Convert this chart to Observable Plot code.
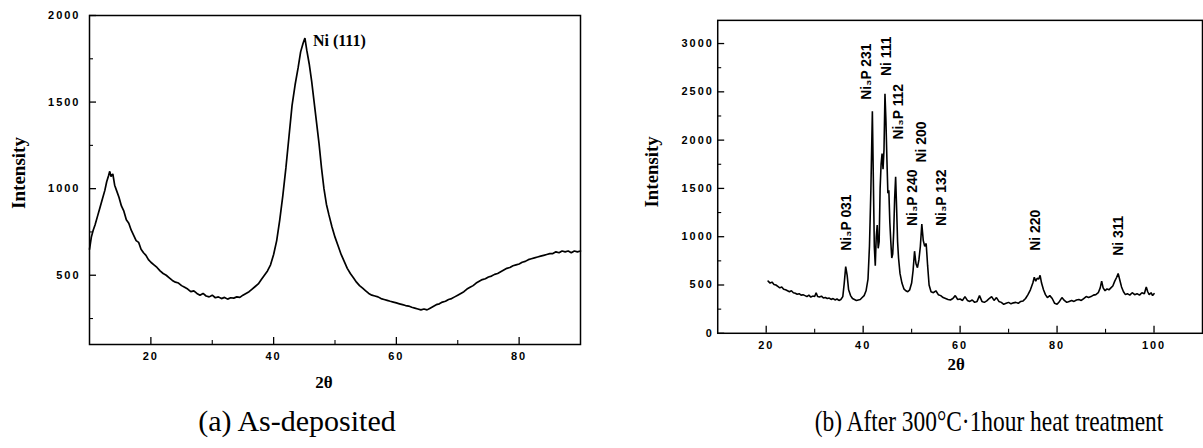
<!DOCTYPE html>
<html><head><meta charset="utf-8">
<script src="https://cdn.jsdelivr.net/npm/d3@7"></script>
<script src="https://cdn.jsdelivr.net/npm/@observablehq/plot@0.6"></script>
<style>
html,body{margin:0;padding:0;background:#fff;}
#wrap{position:relative;width:1203px;height:448px;overflow:hidden;background:#fff;}
.panel{position:absolute;top:0;}
.cap{position:absolute;font-family:"Liberation Serif","Times New Roman",serif;font-size:30px;color:#000;white-space:nowrap;line-height:1;}
g[aria-label="x-axis tick label"] text, g[aria-label="y-axis tick label"] text{letter-spacing:2px;}
</style></head>
<body><div id="wrap"></div>
<script>
// ---- Panel (a): As-deposited ----
const aTheta = [10.0,10.3,10.6,10.9,11.3,11.7,12.1,12.5,12.8,13.1,13.3,13.5,13.8,14.1,14.4,14.8,15.2,15.6,16.0,16.4,16.8,17.2,17.6,18.0,18.4,18.8,19.2,19.6,20.0,20.5,21.0,21.5,22.0,22.5,23.0,23.5,24.0,24.5,25.0,25.5,26.0,26.5,27.0,27.5,28.0,28.5,29.0,29.5,30.0,30.5,31.0,31.5,32.0,32.5,33.0,33.5,34.0,34.5,35.0,35.5,36.0,36.5,37.0,37.5,38.0,38.5,39.0,39.5,40.0,40.5,41.0,41.5,42.0,42.5,43.0,43.5,44.0,44.4,44.8,45.1,45.4,45.8,46.2,46.6,47.0,47.4,47.8,48.2,48.6,49.0,49.5,50.0,50.5,51.0,51.5,52.0,52.5,53.0,53.5,54.0,54.5,55.0,55.5,56.0,56.5,57.0,57.5,58.0,58.5,59.0,59.5,60.0,60.5,61.0,61.5,62.0,62.5,63.0,63.5,64.0,64.5,65.0,65.5,66.0,66.5,67.0,67.5,68.0,68.5,69.0,69.5,70.0,70.5,71.0,71.5,72.0,72.5,73.0,73.5,74.0,74.5,75.0,75.5,76.0,76.5,77.0,77.5,78.0,78.5,79.0,79.5,80.0,80.5,81.0,81.5,82.0,82.5,83.0,83.5,84.0,84.5,85.0,85.5,86.0,86.5,87.0,87.5,88.0,88.5,89.0,89.5,90.0];
const aIntensity = [650,720,760,790,840,890,940,990,1040,1075,1100,1070,1085,1020,990,950,900,870,820,800,760,730,700,690,650,630,615,590,575,560,545,525,510,500,485,470,460,455,440,430,420,405,410,395,385,395,380,375,385,370,375,365,372,362,370,368,375,372,385,395,405,420,435,450,475,500,525,560,620,700,820,960,1120,1300,1480,1600,1700,1790,1840,1870,1800,1720,1620,1500,1380,1260,1120,1000,910,850,780,720,670,620,580,540,510,485,460,440,425,410,395,385,380,375,365,360,355,350,345,340,335,330,325,322,315,310,305,300,305,300,310,320,330,335,345,350,360,365,375,385,395,405,420,430,440,455,465,475,480,490,495,505,510,520,530,540,545,555,560,565,575,580,590,595,600,605,610,615,620,625,625,635,630,640,635,640,630,640,635,640];
const aXMajor = [20,40,60,80];
const aXMinor = [30,50,70];
const aYMajor = [500,1000,1500,2000];
const aYMinor = [250,750,1250,1750];
const aPeakLabel = ["Ni (111)"];
const aPeakX = [46.4];
const aPeakY = [1856];

// ---- Panel (b): After 300°C·1hour heat treatment ----
const bTheta = [20.4,20.8,21.2,21.6,22.0,22.4,22.8,23.2,23.6,24.0,24.4,24.8,25.2,25.6,26.0,26.4,26.8,27.2,27.6,28.0,28.4,28.8,29.2,29.6,30.0,30.3,30.6,31.0,31.4,31.8,32.2,32.6,33.0,33.4,33.8,34.2,34.6,35.0,35.4,35.8,36.1,36.4,36.7,37.0,37.4,37.8,38.2,38.6,39.0,39.4,39.8,40.2,40.6,41.0,41.3,41.6,41.9,42.1,42.3,42.5,42.7,42.9,43.1,43.3,43.5,43.7,43.9,44.1,44.3,44.5,44.7,44.9,45.1,45.3,45.5,45.7,45.9,46.1,46.3,46.5,46.7,46.9,47.1,47.3,47.6,48.0,48.4,48.8,49.2,49.6,50.0,50.3,50.6,50.9,51.2,51.5,51.8,52.1,52.4,52.7,53.0,53.3,53.6,54.0,54.5,55.0,55.5,56.0,56.5,57.0,57.5,58.0,58.5,59.0,59.5,60.0,60.5,61.0,61.5,62.0,62.5,63.0,63.5,64.0,64.5,65.0,65.5,66.0,66.5,67.0,67.5,68.0,68.5,69.0,69.5,70.0,70.5,71.0,71.5,72.0,72.5,73.0,73.5,74.0,74.5,75.0,75.3,75.6,75.9,76.2,76.5,76.8,77.2,77.6,78.0,78.5,79.0,79.5,80.0,80.5,81.0,81.5,82.0,82.5,83.0,83.5,84.0,84.5,85.0,85.5,86.0,86.5,87.0,87.5,88.0,88.5,88.9,89.2,89.5,89.9,90.3,90.7,91.1,91.5,91.9,92.3,92.6,92.9,93.3,93.7,94.1,94.5,95.0,95.5,96.0,96.5,97.0,97.5,98.0,98.4,98.7,99.0,99.4,99.7,100.0];
const bIntensity = [540,520,530,505,500,485,470,480,455,450,440,430,440,420,415,405,410,395,400,390,380,395,375,385,380,420,380,375,385,365,370,360,365,350,360,345,355,340,350,380,520,690,600,450,390,360,350,340,345,350,370,390,440,560,900,1500,2300,1600,900,700,1000,1120,880,950,1500,1750,1860,1700,1900,2480,2200,1800,1450,1480,1150,950,780,820,1050,1400,1620,1300,950,780,620,520,460,440,430,450,520,650,850,720,680,760,900,1130,960,900,930,700,500,430,420,440,400,390,370,360,350,345,360,390,350,355,340,380,340,330,345,320,330,390,330,320,335,360,380,340,370,330,320,300,310,320,305,315,320,310,330,335,360,400,450,520,580,540,570,560,600,520,450,400,370,390,360,310,300,330,370,340,320,330,340,330,345,350,340,360,380,370,380,395,400,420,470,540,470,440,460,450,470,490,540,580,620,560,480,430,400,410,395,420,400,410,395,420,410,480,430,400,420,390,410];
const bXMajor = [20,40,60,80,100];
const bXMinor = [30,50,70,90];
const bYMajor = [0,500,1000,1500,2000,2500,3000];
const bYMinor = [250,750,1250,1750,2250,2750];
const bPeakLabel = ["Ni\u2083P 031","Ni\u2083P 231","Ni 111","Ni\u2083P 112","Ni\u2083P 240","Ni 200","Ni\u2083P 132","Ni 220","Ni 311"];
const bPeakX = [36.5,40.8,44.9,47.3,50.2,52.1,56.2,75.6,92.7];
const bPeakY = [854,2417,2664,2006,1111,1769,1111,854,802];

const aData = aTheta.map((t,i)=>({t, v:aIntensity[i]}));
const bData = bTheta.map((t,i)=>({t, v:bIntensity[i]}));
const aLabels = aPeakLabel.map((s,i)=>({s, x:aPeakX[i], y:aPeakY[i]}));
const bLabels = bPeakLabel.map((s,i)=>({s, x:bPeakX[i], y:bPeakY[i]}));

const serifBold = {fontFamily:"Liberation Serif, Times New Roman, serif", fontWeight:"bold"};
const sansBold = {fontFamily:"Liberation Sans, Arial, sans-serif", fontWeight:"bold", fontSize:11};

function panel(o){
  const iw = o.width - o.ml - o.mr, ih = o.height - o.mt - o.mb;
  return Plot.plot({
    width:o.width, height:o.height,
    marginLeft:o.ml, marginRight:o.mr, marginTop:o.mt, marginBottom:o.mb,
    x:{domain:o.xd}, y:{domain:o.yd},
    style:{background:"#fff", color:"#000", overflow:"visible"},
    marks:[
      Plot.line(o.data,{x:"t", y:"v", stroke:"#000", strokeWidth:o.sw, strokeLinejoin:"miter"}),
      Plot.tickX(o.xMajor,{x:d=>d, stroke:"#000", strokeWidth:1.3, insetTop:ih-7}),
      Plot.tickX(o.xMinor,{x:d=>d, stroke:"#000", strokeWidth:1.1, insetTop:ih-4}),
      Plot.tickY(o.yMajor,{y:d=>d, stroke:"#000", strokeWidth:1.3, insetRight:iw-7}),
      Plot.tickY(o.yMinor,{y:d=>d, stroke:"#000", strokeWidth:1.1, insetRight:iw-4}),
      Plot.axisX(o.xMajor,{tickSize:0, tickPadding:o.xPad, label:null, tickFormat:"d", ...sansBold}),
      Plot.axisY(o.yMajor,{tickSize:0, tickPadding:o.yPad, label:null, tickFormat:"d", ...sansBold}),
      Plot.frame({stroke:"#000", strokeWidth:1.5}),
      Plot.text(["Intensity"],{frameAnchor:"left", rotate:-90, textAnchor:"middle", lineAnchor:"middle", dx:o.ylDx, dy:o.ylDy, fontSize:19, ...serifBold, fill:"#000", style:"letter-spacing:1.5px"}),
      Plot.text(["2\u03b8"],{frameAnchor:"bottom", textAnchor:"middle", lineAnchor:"middle", dx:o.xlDx, dy:o.xlDy, fontSize:17, ...serifBold, fill:"#000"}),
      ...o.extra
    ]
  });
}

const wrap = document.getElementById("wrap");

const pa = panel({width:600, height:400, ml:89, mr:20, mt:15, mb:56, xd:[10,90], yd:[100,2000],
  data:aData, xMajor:aXMajor, xMinor:aXMinor, yMajor:aYMajor, yMinor:aYMinor, sw:1.7,
  xPad:8, yPad:9, ylDx:-71, ylDy:-7, xlDx:-11, xlDy:38,
  extra:[Plot.text(aLabels,{x:"x", y:"y", text:"s", textAnchor:"start", lineAnchor:"middle", fontSize:16, ...serifBold, fill:"#000", style:"letter-spacing:1.5px"})]
});
const da = document.createElement("div"); da.className="panel"; da.style.left="0px"; da.appendChild(pa); wrap.appendChild(da);

const pb = panel({width:607, height:400, ml:118, mr:1, mt:20, mb:65, xd:[10,110], yd:[0,3240],
  data:bData, xMajor:bXMajor, xMinor:bXMinor, yMajor:bYMajor, yMinor:bYMinor, sw:1.6,
  xPad:8, yPad:4, ylDx:-66, ylDy:-5, xlDx:-4, xlDy:32,
  extra:[Plot.text(bLabels,{x:"x", y:"y", text:"s", rotate:-90, textAnchor:"start", lineAnchor:"middle", fontSize:14, fontFamily:"Liberation Sans, Arial, sans-serif", fontWeight:"bold", fill:"#000", style:"letter-spacing:1px"})]
});
const db = document.createElement("div"); db.className="panel"; db.style.left="600px"; db.appendChild(pb); wrap.appendChild(db);

const ca = document.createElement("div"); ca.className="cap"; ca.style.left="297px"; ca.style.top="406px"; ca.style.transform="translateX(-50%)"; ca.textContent="(a) As-deposited"; wrap.appendChild(ca);
const cb = document.createElement("div"); cb.className="cap"; cb.style.left="989px"; cb.style.top="406px"; cb.style.transform="translateX(-50%) scaleX(0.78)"; cb.textContent="(b) After 300°C\u00b71hour heat treatment"; wrap.appendChild(cb);
</script>
</body></html>
